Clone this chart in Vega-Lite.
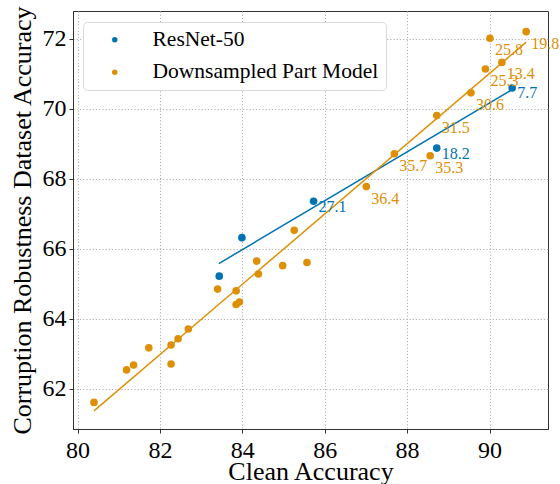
{
  "$schema": "https://vega.github.io/schema/vega-lite/v6.json",
  "width": 475,
  "height": 418,
  "autosize": {"type": "none"},
  "padding": {"left": 73, "top": 11, "right": 12, "bottom": 55},
  "background": "white",
  "config": {
    "font": "Liberation Serif",
    "view": {"stroke": "#333333", "strokeWidth": 1},
    "axis": {
      "labelFont": "Liberation Serif",
      "titleFont": "Liberation Serif",
      "labelFontSize": 24,
      "titleFontSize": 26,
      "titleFontWeight": "normal",
      "labelColor": "black",
      "titleColor": "black",
      "domainColor": "#333333",
      "tickColor": "#333333",
      "tickSize": 4,
      "gridColor": "#b0b0b0",
      "gridDash": [1.2, 2],
      "gridWidth": 1
    }
  },
  "data": {
    "values": [
      {"kind": "point", "series": "Downsampled Part Model", "clean": 80.40, "robust": 61.61, "label": ""},
      {"kind": "point", "series": "Downsampled Part Model", "clean": 81.19, "robust": 62.54, "label": ""},
      {"kind": "point", "series": "Downsampled Part Model", "clean": 81.36, "robust": 62.68, "label": ""},
      {"kind": "point", "series": "Downsampled Part Model", "clean": 81.73, "robust": 63.17, "label": ""},
      {"kind": "point", "series": "Downsampled Part Model", "clean": 82.27, "robust": 62.71, "label": ""},
      {"kind": "point", "series": "Downsampled Part Model", "clean": 82.27, "robust": 63.25, "label": ""},
      {"kind": "point", "series": "Downsampled Part Model", "clean": 82.44, "robust": 63.43, "label": ""},
      {"kind": "point", "series": "Downsampled Part Model", "clean": 82.69, "robust": 63.71, "label": ""},
      {"kind": "point", "series": "Downsampled Part Model", "clean": 83.40, "robust": 64.85, "label": ""},
      {"kind": "point", "series": "Downsampled Part Model", "clean": 83.85, "robust": 64.80, "label": ""},
      {"kind": "point", "series": "Downsampled Part Model", "clean": 83.85, "robust": 64.41, "label": ""},
      {"kind": "point", "series": "Downsampled Part Model", "clean": 83.93, "robust": 64.48, "label": ""},
      {"kind": "point", "series": "Downsampled Part Model", "clean": 84.35, "robust": 65.65, "label": ""},
      {"kind": "point", "series": "Downsampled Part Model", "clean": 84.39, "robust": 65.28, "label": ""},
      {"kind": "point", "series": "Downsampled Part Model", "clean": 84.98, "robust": 65.52, "label": ""},
      {"kind": "point", "series": "Downsampled Part Model", "clean": 85.57, "robust": 65.61, "label": ""},
      {"kind": "point", "series": "Downsampled Part Model", "clean": 85.26, "robust": 66.53, "label": ""},
      {"kind": "point", "series": "Downsampled Part Model", "clean": 87.01, "robust": 67.78, "label": "36.4"},
      {"kind": "point", "series": "Downsampled Part Model", "clean": 87.69, "robust": 68.72, "label": "35.7"},
      {"kind": "point", "series": "Downsampled Part Model", "clean": 88.56, "robust": 68.66, "label": "35.3"},
      {"kind": "point", "series": "Downsampled Part Model", "clean": 88.72, "robust": 69.81, "label": "31.5"},
      {"kind": "point", "series": "Downsampled Part Model", "clean": 89.55, "robust": 70.46, "label": "30.6"},
      {"kind": "point", "series": "Downsampled Part Model", "clean": 89.90, "robust": 71.14, "label": "25.3"},
      {"kind": "point", "series": "Downsampled Part Model", "clean": 90.30, "robust": 71.33, "label": "13.4"},
      {"kind": "point", "series": "Downsampled Part Model", "clean": 90.01, "robust": 72.02, "label": "25.8"},
      {"kind": "point", "series": "Downsampled Part Model", "clean": 90.89, "robust": 72.21, "label": "19.8"},
      {"kind": "point", "series": "ResNet-50", "clean": 83.44, "robust": 65.22, "label": ""},
      {"kind": "point", "series": "ResNet-50", "clean": 83.99, "robust": 66.32, "label": ""},
      {"kind": "point", "series": "ResNet-50", "clean": 85.73, "robust": 67.36, "label": "27.1"},
      {"kind": "point", "series": "ResNet-50", "clean": 88.72, "robust": 68.88, "label": "18.2"},
      {"kind": "point", "series": "ResNet-50", "clean": 90.55, "robust": 70.60, "label": "7.7"},
      {"kind": "fit", "series": "Downsampled Part Model", "clean": 80.40, "robust": 61.37, "label": ""},
      {"kind": "fit", "series": "Downsampled Part Model", "clean": 90.89, "robust": 71.91, "label": ""},
      {"kind": "fit", "series": "ResNet-50", "clean": 83.43, "robust": 65.58, "label": ""},
      {"kind": "fit", "series": "ResNet-50", "clean": 90.55, "robust": 70.55, "label": ""}
    ]
  },
  "encoding": {
    "x": {
      "field": "clean", "type": "quantitative",
      "scale": {"domain": [79.89, 91.42], "nice": false, "zero": false},
      "axis": {"values": [80, 82, 84, 86, 88, 90], "title": "Clean Accuracy", "labelPadding": 5, "titleBaseline": "alphabetic", "titleY": 50}
    },
    "y": {
      "field": "robust", "type": "quantitative",
      "scale": {"domain": [60.85, 72.8], "nice": false, "zero": false},
      "axis": {"values": [62, 64, 66, 68, 70, 72], "title": "Corruption Robustness Dataset Accuracy", "labelPadding": 3, "titleBaseline": "alphabetic", "titleX": -43}
    }
  },
  "layer": [
    {
      "transform": [{"filter": "datum.kind === 'fit' && datum.series === 'ResNet-50'"}],
      "mark": {"type": "line", "strokeWidth": 1.5, "color": "#0173b2"},
      "encoding": {}
    },
    {
      "transform": [{"filter": "datum.kind === 'fit' && datum.series === 'Downsampled Part Model'"}],
      "mark": {"type": "line", "strokeWidth": 1.5, "color": "#de8f05"},
      "encoding": {}
    },
    {
      "transform": [{"filter": "datum.kind === 'point'"}],
      "mark": {"type": "circle", "size": 58, "opacity": 1},
      "encoding": {
        "color": {
          "field": "series", "type": "nominal",
          "scale": {"domain": ["ResNet-50", "Downsampled Part Model"], "range": ["#0173b2", "#de8f05"]},
          "legend": {
            "title": null,
            "orient": "none",
            "legendX": 10,
            "legendY": 11,
            "padding": 7,
            "labelFont": "Liberation Serif",
            "labelFontSize": 21.5,
            "labelColor": "black",
            "labelLimit": 400,
            "symbolType": "circle",
            "symbolSize": 30,
            "symbolOffset": 14,
            "labelOffset": 27,
            "rowPadding": 9.5,
            "strokeColor": "#d9d9d9",
            "fillColor": "white",
            "cornerRadius": 4
          }
        }
      }
    },
    {
      "transform": [{"filter": "datum.kind === 'point' && datum.series === 'Downsampled Part Model' && datum.label !== ''"}],
      "mark": {"type": "text", "align": "left", "baseline": "middle", "dx": 5, "dy": 12, "fontSize": 16, "font": "Liberation Serif", "color": "#de8f05"},
      "encoding": {"text": {"field": "label"}}
    },
    {
      "transform": [{"filter": "datum.kind === 'point' && datum.series === 'ResNet-50' && datum.label !== ''"}],
      "mark": {"type": "text", "align": "left", "baseline": "middle", "dx": 5, "dy": 5.5, "fontSize": 16, "font": "Liberation Serif", "color": "#0173b2"},
      "encoding": {"text": {"field": "label"}}
    }
  ]
}
